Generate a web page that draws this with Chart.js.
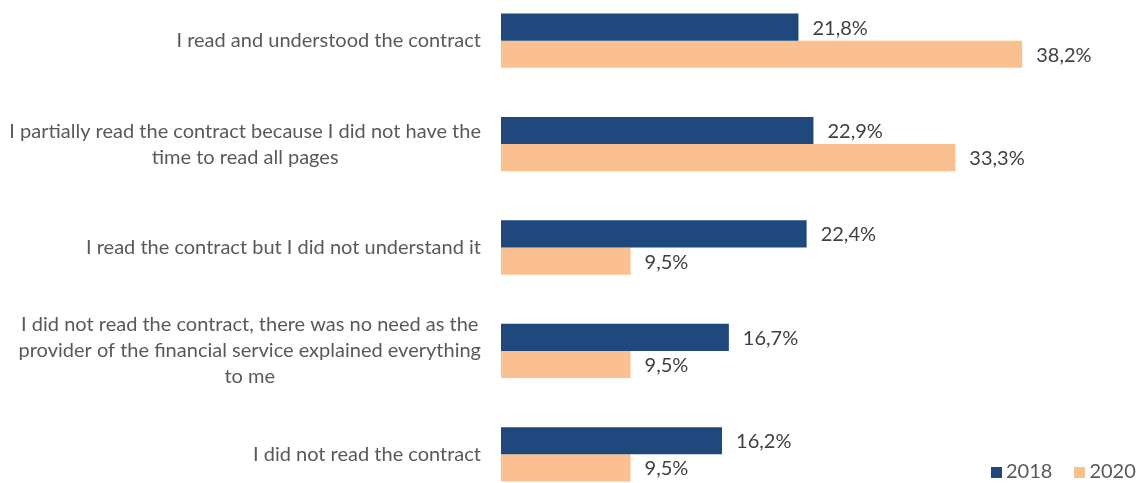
<!DOCTYPE html>
<html>
<head>
<meta charset="utf-8">
<script src="https://cdn.jsdelivr.net/npm/chart.js@4/dist/chart.umd.min.js"></script>
<style>
  html, body { margin: 0; padding: 0; background: #fff; }
  #frame { position: relative; width: 1143px; height: 483px; overflow: hidden; }
  #box { position: absolute; left: 0; top: -11px; width: 1143px; height: 517px; }
  #legend { position: absolute; top: 458px; left: 991px; font: 20px Lato, sans-serif; color: #595959; white-space: nowrap; }
  #legend span.sw { display: inline-block; width: 11px; height: 11px; margin-right: 4px; vertical-align: 0px; }
  #legend span.item { margin-right: 22px; }
</style>
</head>
<body>
<div id="frame">
  <div id="box"><canvas id="chart"></canvas></div>
  <div id="legend"></div>
</div>
<script>
const categories = [
  ["I read and understood the contract"],
  ["I partially read the contract because I did not have the", "time to read all pages"],
  ["I read the contract but I did not understand it"],
  ["I did not read the contract, there was no need as the", "provider of the financial service explained everything", "to me"],
  ["I did not read the contract"]
];
const years = ["2018", "2020"];
const values2018 = [21.8, 22.9, 22.4, 16.7, 16.2];
const values2020 = [38.2, 33.3, 9.5, 9.5, 9.5];
const colors = ["#1F497D", "#FAC090"];

const FONT = "Lato, sans-serif";
const textColor = "#595959";

// y labels: each block right aligned, lines centred inside the block
const labelPlugin = {
  id: 'blockLabels',
  afterDraw(chart) {
    const ctx = chart.ctx;
    const y = chart.scales.y;
    const right = chart.chartArea.left - 20;
    const lh = 26;
    ctx.save();
    ctx.font = "20px " + FONT;
    ctx.fillStyle = textColor;
    ctx.textAlign = "center";
    ctx.textBaseline = "middle";
    categories.forEach((lines, i) => {
      const cy = y.getPixelForTick(i);
      let w = 0;
      lines.forEach(l => { w = Math.max(w, ctx.measureText(l).width); });
      const cx = right - w / 2;
      const top = cy - (lines.length - 1) * lh / 2;
      lines.forEach((l, k) => ctx.fillText(l, cx, top + k * lh));
    });
    ctx.restore();
  }
};

// value labels at the end of each bar
const valuePlugin = {
  id: 'valueLabels',
  afterDatasetsDraw(chart) {
    const ctx = chart.ctx;
    ctx.save();
    ctx.font = "20px " + FONT;
    ctx.fillStyle = "#404040";
    ctx.textAlign = "left";
    ctx.textBaseline = "middle";
    chart.data.datasets.forEach((ds, di) => {
      chart.getDatasetMeta(di).data.forEach((bar, i) => {
        const txt = ds.data[i].toFixed(1).replace(".", ",") + "%";
        ctx.fillText(txt, bar.x + 14, bar.y + 1);
      });
    });
    ctx.restore();
  }
};

new Chart(document.getElementById("chart"), {
  type: "bar",
  data: {
    labels: categories,
    datasets: [
      { label: years[0], data: values2018, backgroundColor: colors[0], categoryPercentage: 0.525, barPercentage: 1 },
      { label: years[1], data: values2020, backgroundColor: colors[1], categoryPercentage: 0.525, barPercentage: 1 }
    ]
  },
  options: {
    indexAxis: "y",
    responsive: true,
    maintainAspectRatio: false,
    animation: false,
    layout: { padding: { left: 0, right: 28, top: 0, bottom: 0 } },
    plugins: { legend: { display: false }, tooltip: { enabled: false } },
    scales: {
      x: { display: false, min: 0, max: 45 },
      y: {
        grid: { display: false },
        border: { display: false },
        ticks: { display: false },
        afterFit(scale) { scale.width = 501; }
      }
    }
  },
  plugins: [labelPlugin, valuePlugin]
});

const leg = document.getElementById("legend");
years.forEach((yr, i) => {
  const s = document.createElement("span");
  s.className = "item";
  s.innerHTML = '<span class="sw" style="background:' + colors[i] + '"></span>' + yr;
  leg.appendChild(s);
});
</script>
</body>
</html>
